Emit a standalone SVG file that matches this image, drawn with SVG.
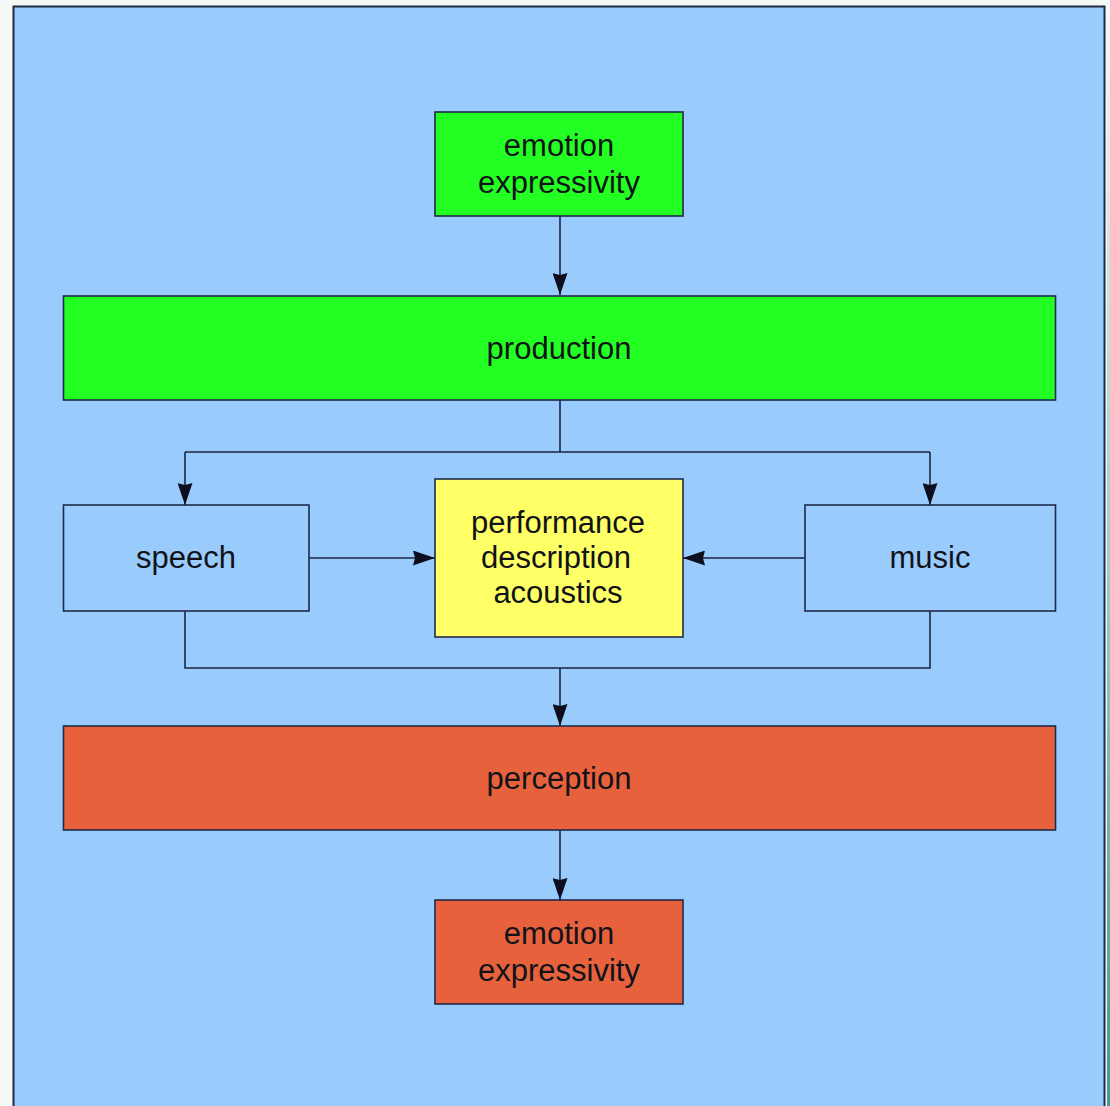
<svg xmlns="http://www.w3.org/2000/svg" width="1110" height="1106" viewBox="0 0 1110 1106">
<defs>
<marker id="arr" viewBox="0 0 22 15" refX="22" refY="7.5" markerWidth="22" markerHeight="15" markerUnits="userSpaceOnUse" orient="auto">
<path d="M0,0 L22,7.5 L0,15 L2,7.5 Z" fill="#0d0f1e"/>
</marker>
<linearGradient id="edge" x1="0" y1="0" x2="0" y2="1">
<stop offset="0" stop-color="#5aa8a8" stop-opacity="0"/>
<stop offset="1" stop-color="#3f9a9a" stop-opacity="1"/>
</linearGradient>
<style>
.box{stroke:#1e2a4a;stroke-width:1.6}
.lbl{font-family:"Liberation Sans",Arial,sans-serif;font-size:31px;fill:#111318;text-anchor:middle}
.con{fill:none;stroke:#1e2540;stroke-width:1.6}
</style>
</defs>
<rect x="0" y="0" width="1110" height="1106" fill="#f6f8f8"/>
<rect x="13.5" y="6.5" width="1091" height="1110" fill="#99ccfd" stroke="#22283c" stroke-width="2"/>
<rect x="1107" y="0" width="3" height="1106" fill="url(#edge)"/>

<g id="connectors">
<path class="con" d="M560,216 V295" marker-end="url(#arr)"/>
<path class="con" d="M560,400 V452 M185,452 H930"/>
<path class="con" d="M185,452 V505" marker-end="url(#arr)"/>
<path class="con" d="M930,452 V505" marker-end="url(#arr)"/>
<path class="con" d="M309,558 H435" marker-end="url(#arr)"/>
<path class="con" d="M805,558 H683" marker-end="url(#arr)"/>
<path class="con" d="M185,611 V668 H930 V611"/>
<path class="con" d="M560,668 V726" marker-end="url(#arr)"/>
<path class="con" d="M560,830 V900" marker-end="url(#arr)"/>
</g>

<g id="emotion-top">
<rect class="box" x="435" y="112" width="248" height="104" fill="#23ff23"/>
<text class="lbl" x="559" y="156">emotion</text>
<text class="lbl" x="559" y="193">expressivity</text>
</g>
<g id="production">
<rect class="box" x="63.5" y="296" width="992" height="104" fill="#23ff23"/>
<text class="lbl" x="559" y="359">production</text>
</g>
<g id="speech">
<rect class="box" x="63.5" y="505" width="245.5" height="106" fill="#99ccfd"/>
<text class="lbl" x="186" y="568">speech</text>
</g>
<g id="performance">
<rect class="box" x="435" y="479" width="248" height="158" fill="#ffff66"/>
<text class="lbl" x="558" y="533">performance</text>
<text class="lbl" x="556" y="568">description</text>
<text class="lbl" x="558" y="603">acoustics</text>
</g>
<g id="music">
<rect class="box" x="805" y="505" width="250.5" height="106" fill="#99ccfd"/>
<text class="lbl" x="930" y="568">music</text>
</g>
<g id="perception">
<rect class="box" x="63.5" y="726" width="992" height="104" fill="#e8613d"/>
<text class="lbl" x="559" y="789">perception</text>
</g>
<g id="emotion-bottom">
<rect class="box" x="435" y="900" width="248" height="104" fill="#e8613d"/>
<text class="lbl" x="559" y="944">emotion</text>
<text class="lbl" x="559" y="981">expressivity</text>
</g>
</svg>
